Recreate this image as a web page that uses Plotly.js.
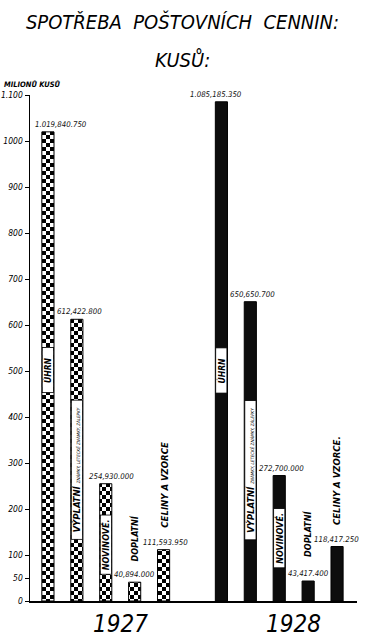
<!DOCTYPE html>
<html>
<head>
<meta charset="utf-8">
<script src="https://cdn.plot.ly/plotly-3.0.1.min.js"></script>
<style>html,body{margin:0;padding:0;background:#fff;}#chart{width:368px;height:642px;}</style>
</head>
<body>
<div id="chart"></div>
<script>
// ---- data (millions of pieces) ----
const categories = ['ÚHRN', 'VÝPLATNÍ', 'NOVINOVÉ', 'DOPLATNÍ', 'CELINY A VZORCE'];
const years = ['1927', '1928'];
const values1927 = [1019.84075, 612.4228, 254.93, 40.894, 111.59395];
const values1928 = [1085.18535, 650.6507, 272.7, 43.4174, 118.41725];
const labels1927 = ['1.019,840.750', '612,422.800', '254,930.000', '40,894.000', '111,593.950'];
const labels1928 = ['1.085,185.350', '650,650.700', '272,700.000', '43,417.400', '118,417.250'];
const yTickVals = [0, 50, 100, 200, 300, 400, 500, 600, 700, 800, 900, 1000, 1100];
const yTickText = ['0', '50', '100', '200', '300', '400', '500', '600', '700', '800', '900', '1000', '1.100'];

// ---- layout helpers ----
const FONT = '"Liberation Sans Narrow", "DejaVu Sans Condensed", "Liberation Sans", sans-serif';
const x1927 = categories.map((c, i) => i);
const x1928 = categories.map((c, i) => i + 6);
const BW = 0.42;

const traces = [
  {
    type: 'bar', name: years[0], x: x1927, y: values1927, width: BW,
    marker: { color: '#fff', line: { color: '#000', width: 1 },
      pattern: { shape: '+', fgcolor: '#000', bgcolor: '#fff', size: 8, solidity: 0.5 } },
    hoverinfo: 'skip', cliponaxis: false
  },
  {
    type: 'bar', name: years[1], x: x1928, y: values1928, width: BW,
    marker: { color: '#0d0d0d', line: { color: '#000', width: 1 } },
    hoverinfo: 'skip', cliponaxis: false
  }
];

const annotations = [];
const valFont = { family: FONT, size: 7.8, color: '#111', style: 'italic' };
const shifts1927 = [13, 3, 6, 0, 2];
const shifts1928 = [-5, 2, 2, 0, -1];
values1927.forEach((v, i) => annotations.push({ x: x1927[i], y: v, text: labels1927[i], showarrow: false,
  xanchor: 'center', yanchor: 'bottom', yshift: 1, xshift: shifts1927[i], font: valFont }));
values1928.forEach((v, i) => annotations.push({ x: x1928[i], y: v, text: labels1928[i], showarrow: false,
  xanchor: 'center', yanchor: 'bottom', yshift: 1, xshift: shifts1928[i], font: valFont }));

// rotated category labels inside / above bars
const lblFont = (s) => ({ family: FONT, size: s, color: '#000', style: 'italic', weight: 700 });
function boxLabel(x, y, text, size, boxLen) {
  return { x: x, y: y, text: text, showarrow: false, textangle: -90, xanchor: 'center', yanchor: 'middle',
    bgcolor: '#fff', bordercolor: '#000', borderwidth: 0.8, borderpad: 0, width: boxLen, height: 10,
    font: lblFont(size) };
}
function freeLabel(x, y, text, size) {
  return { x: x, y: y, text: text, showarrow: false, textangle: -90, xanchor: 'center', yanchor: 'middle',
    font: lblFont(size) };
}
const smallTxt = "<span style='font-size:4.5px;font-weight:400'>ZNÁMKY, LETECKÉ ZNÁMKY, ZÁLEPKY</span>";
[x1927, x1928].forEach((xs, g) => {
  annotations.push(boxLabel(xs[0], 502, categories[0], 8.5, 44));
  annotations.push(boxLabel(xs[1], 285, categories[1] + ' ' + smallTxt, 9.5, 138));
  annotations.push(boxLabel(xs[2], g ? 137 : 122, categories[2] + '.', 9, 58));
  annotations.push(freeLabel(xs[3], g ? 146 : 135, categories[3], 9));
  annotations.push(freeLabel(xs[4], g ? 261 : 252, categories[4] + (g ? '.' : ''), 9.5));
});

// year labels
const yearFont = { family: FONT, size: 24, color: '#000', style: 'italic' };
annotations.push({ x: 2.5, y: 0, xref: 'x', yref: 'paper', yanchor: 'middle', yshift: -23, text: years[0],
  showarrow: false, font: yearFont });
annotations.push({ x: 8.5, y: 0, xref: 'x', yref: 'paper', yanchor: 'middle', yshift: -23, text: years[1],
  showarrow: false, font: yearFont });

// second title line and y unit
annotations.push({ xref: 'paper', yref: 'paper', x: 0.466, y: 1, yshift: 35, text: 'KUSŮ:', showarrow: false,
  xanchor: 'center', yanchor: 'middle', font: { family: FONT, size: 20, color: '#000', style: 'italic' } });
annotations.push({ xref: 'paper', yref: 'paper', x: -0.085, y: 1, yshift: 4, text: 'MILIONŮ KUSŮ', showarrow: false,
  xanchor: 'left', yanchor: 'bottom', font: { family: FONT, size: 7.5, color: '#000', style: 'italic', weight: 700 } });

const layout = {
  width: 368, height: 642,
  margin: { l: 30, r: 11, t: 95, b: 41 },
  paper_bgcolor: '#fff', plot_bgcolor: '#fff',
  showlegend: false,
  title: { text: 'SPOTŘEBA  POŠTOVNÍCH  CENNIN:', x: 0.496, xanchor: 'center', y: 0.966, yanchor: 'middle',
    font: { family: FONT, size: 20, color: '#000', style: 'italic' } },
  xaxis: { range: [-0.62, 10.69], showline: true, linecolor: '#000', linewidth: 1.5, showticklabels: false,
    ticks: '', showgrid: false, zeroline: false, fixedrange: true },
  yaxis: { range: [0, 1100], showline: true, linecolor: '#000', linewidth: 1.5, ticks: 'outside', ticklen: 4,
    tickcolor: '#000', tickwidth: 1, tickvals: yTickVals, ticktext: yTickText, showgrid: false, zeroline: false,
    tickfont: { family: FONT, size: 8.5, color: '#000', style: 'italic' }, fixedrange: true },
  bargap: 0, annotations: annotations
};

Plotly.newPlot('chart', traces, layout, { staticPlot: true }).then(() => {
  // turn the bar pattern into a checkerboard
  document.querySelectorAll('#chart defs pattern').forEach(p => {
    const s = 8, h = s / 2, ns = 'http://www.w3.org/2000/svg';
    p.setAttribute('width', s); p.setAttribute('height', s);
    p.setAttribute('patternUnits', 'userSpaceOnUse');
    p.removeAttribute('patternTransform');
    while (p.firstChild) p.removeChild(p.firstChild);
    [[0, 0, s, s, '#fff'], [0, 0, h, h, '#000'], [h, h, h, h, '#000']].forEach(r => {
      const e = document.createElementNS(ns, 'rect');
      e.setAttribute('x', r[0]); e.setAttribute('y', r[1]); e.setAttribute('width', r[2]);
      e.setAttribute('height', r[3]); e.setAttribute('fill', r[4]);
      p.appendChild(e);
    });
  });
});
</script>
</body>
</html>
